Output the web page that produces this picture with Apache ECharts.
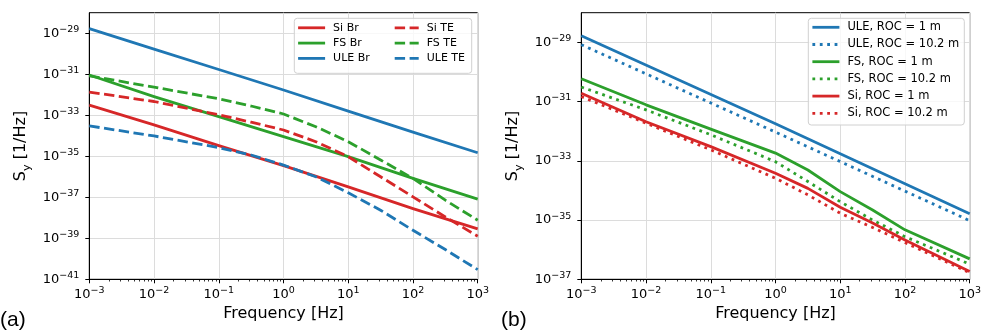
<html>
<head>
<meta charset="utf-8"/>
<title>Sy spectra</title>
<script src="https://cdn.jsdelivr.net/npm/echarts@6/dist/echarts.min.js"></script>
<style>
  body { margin: 0; padding: 0; background: #fff; }
  #chart { width: 997px; height: 336px; }
</style>
</head>
<body>
<div id="chart"></div>
<script type="text/javascript">
// all values are log10: x = log10(frequency / Hz), y = log10(S_y / (1/Hz))
// panel (a)
const brX = [-3, -2, -1, 0, 1, 2, 3];
const siBr = [-32.51, -33.47, -34.48, -35.46, -36.49, -37.55, -38.54];
const fsBr = [-31.04, -32.09, -33.07, -34.04, -35.02, -36.08, -37.09];
const uleBr = [-28.78, -29.78, -30.77, -31.77, -32.8, -33.82, -34.83];

const teX = [-3, -2, -1, -0.5, 0, 0.5, 1, 1.5, 2, 2.5, 3];
const siTE = [-31.87, -32.33, -32.98, -33.34, -33.72, -34.29, -35.02, -36.0, -36.98, -37.96, -38.9];
const fsTE = [-31.08, -31.63, -32.2, -32.55, -32.94, -33.56, -34.29, -35.18, -36.08, -37.14, -38.12];
const uleTE = [-33.52, -34.01, -34.58, -34.94, -35.43, -36.0, -36.78, -37.63, -38.61, -39.55, -40.53];

// panel (b)
const uleX = [-3, 0, 3];
const ule1 = [-28.78, -31.75, -34.79];
const ule10 = [-29.08, -32.03, -35.02];

const rocX = [-3, -2, -1, 0, 0.5, 1, 1.5, 2, 3];
const fs1 = [-30.23, -31.11, -31.93, -32.74, -33.31, -34.04, -34.66, -35.33, -36.31];
const fs10 = [-30.51, -31.28, -32.12, -33.03, -33.7, -34.38, -35.0, -35.56, -36.49];
const si1 = [-30.72, -31.68, -32.52, -33.42, -33.93, -34.57, -35.1, -35.67, -36.74];
const si10 = [-30.83, -31.73, -32.63, -33.59, -34.15, -34.77, -35.25, -35.76, -36.78];

// axis ranges (decades)
const yTicksA = [-41, -39, -37, -35, -33, -31, -29];
const yTicksB = [-37, -35, -33, -31, -29];
const yMinA = -41, yMaxA = -28;
const yMinB = -37, yMaxB = -28;

const BLUE = '#1f77b4', GREEN = '#2ca02c', RED = '#d62728';
const FONT = 'DejaVu Sans';
const LW = 2.8;
const DASH = [10.4, 4.5];
const DOT = [2.8, 4.6];

let chart = echarts.init(document.getElementById('chart'), null, {renderer: 'canvas'});

function minus(n) {
  return n < 0 ? '\u2212' + Math.abs(n) : '' + n;
}

function powLabel(n) {
  return '{b|10}{e|' + minus(n) + '}';
}

const richPow = {
  b: {fontSize: 13, fontFamily: FONT, color: '#000', lineHeight: 18},
  e: {fontSize: 9.5, fontFamily: FONT, color: '#000', lineHeight: 10, verticalAlign: 'top'}
};

let minorX = [];
for (let n = -3; n < 3; n++) {
  for (let k = 2; k <= 9; k++) {
    minorX.push(n + Math.log10(k));
  }
}

function mainX(gridIndex) {
  return {
    type: 'value', gridIndex: gridIndex, position: 'bottom',
    min: -3, max: 3, interval: 1,
    name: 'Frequency [Hz]', nameLocation: 'middle', nameGap: 23,
    nameTextStyle: {fontSize: 16, fontFamily: FONT, color: '#000'},
    axisLine: {show: true, onZero: false, lineStyle: {color: '#000', width: 1}},
    axisTick: {show: true, length: 4, lineStyle: {color: '#000', width: 1}},
    axisLabel: {
      margin: 6, color: '#000',
      formatter: (v) => powLabel(Math.round(v)),
      rich: richPow
    },
    splitLine: {show: true, lineStyle: {color: '#dcdcdc', width: 1}}
  };
}

function minorXAxis(gridIndex) {
  return {
    type: 'value', gridIndex: gridIndex, position: 'bottom',
    min: -3, max: 3,
    axisLine: {show: false, onZero: false},
    axisTick: {show: true, length: 2.2, customValues: minorX, lineStyle: {color: '#000', width: 0.8}},
    axisLabel: {show: false},
    splitLine: {show: false}
  };
}

function mainY(gridIndex, yMin, yMax, ticks) {
  let shifted = ticks.map((t) => t - yMin);
  return {
    type: 'value', gridIndex: gridIndex, position: 'left',
    min: 0, max: yMax - yMin, interval: 2,
    name: '{s|S}{u|y}{s| [1/Hz]}', nameLocation: 'middle', nameGap: 57,
    nameTextStyle: {
      rich: {
        s: {fontSize: 16, fontFamily: FONT, color: '#000', lineHeight: 22},
        u: {fontSize: 11.2, fontFamily: FONT, color: '#000', lineHeight: 12, verticalAlign: 'bottom'}
      }
    },
    axisLine: {show: true, onZero: false, lineStyle: {color: '#000', width: 1}},
    axisTick: {show: true, length: 4, customValues: shifted, lineStyle: {color: '#000', width: 1}},
    axisLabel: {
      margin: 10, color: '#000', customValues: shifted,
      formatter: (v) => powLabel(Math.round(v + yMin)),
      rich: richPow
    },
    splitLine: {show: true, lineStyle: {color: '#dcdcdc', width: 1}}
  };
}

function pairs(xs, ys, yMin) {
  return xs.map((x, i) => [x, ys[i] - yMin]);
}

function line(name, idx, xs, ys, yMin, color, type) {
  return {
    name: name, type: 'line',
    xAxisIndex: idx, yAxisIndex: idx,
    data: pairs(xs, ys, yMin),
    symbol: 'none', showSymbol: false,
    lineStyle: {color: color, width: LW, type: type, cap: 'butt', join: 'round'},
    itemStyle: {color: color},
    emphasis: {disabled: true},
    animation: false
  };
}

const legendText = (size) => ({fontSize: size, fontFamily: FONT, color: '#000', padding: [0, 0, 0, 3]});
const legendBase = {
  orient: 'vertical', padding: 0, itemHeight: 12, selectedMode: false,
  itemStyle: {opacity: 0},
  lineStyle: {width: LW}
};

let option = {
  backgroundColor: '#fff',
  animation: false,
  grid: [
    {left: 89.3, top: 12.7, width: 388.4, height: 266.6, show: true, borderColor: '#000', borderWidth: 1, backgroundColor: 'transparent'},
    {left: 581.3, top: 12.7, width: 388.4, height: 266.6, show: true, borderColor: '#000', borderWidth: 1, backgroundColor: 'transparent'}
  ],
  xAxis: [mainX(0), mainX(1), minorXAxis(0), minorXAxis(1)],
  yAxis: [mainY(0, yMinA, yMaxA, yTicksA), mainY(1, yMinB, yMaxB, yTicksB)],
  legend: [
    Object.assign({}, legendBase, {
      data: ['Si Br', 'FS Br', 'ULE Br'],
      left: 296.7, top: 22.3, itemWidth: 27, itemGap: 4.3, textStyle: legendText(11)
    }),
    Object.assign({}, legendBase, {
      data: ['Si TE', 'FS TE', 'ULE TE'],
      left: 393.3, top: 22.3, itemWidth: 24, itemGap: 4.3, textStyle: legendText(11)
    }),
    Object.assign({}, legendBase, {
      data: ['ULE, ROC = 1 m', 'ULE, ROC = 10.2 m', 'FS, ROC = 1 m', 'FS, ROC = 10.2 m', 'Si, ROC = 1 m', 'Si, ROC = 10.2 m'],
      left: 811, top: 21.3, itemWidth: 27, itemGap: 5.2, textStyle: legendText(11.5)
    })
  ],
  graphic: {
    elements: [
      {type: 'rect', z: 3, shape: {x: 294.3, y: 18.3, width: 177.4, height: 55, r: 3},
        style: {fill: 'rgba(255,255,255,0.8)', stroke: '#d0d0d0', lineWidth: 1}},
      {type: 'rect', z: 3, shape: {x: 808.3, y: 18.3, width: 156, height: 106.7, r: 3},
        style: {fill: 'rgba(255,255,255,0.8)', stroke: '#d0d0d0', lineWidth: 1}},
      {type: 'text', x: 0, y: 320, style: {text: '(a)', fontSize: 21, fontFamily: 'Liberation Sans', fill: '#000', verticalAlign: 'middle'}},
      {type: 'text', x: 501, y: 320, style: {text: '(b)', fontSize: 21, fontFamily: 'Liberation Sans', fill: '#000', verticalAlign: 'middle'}}
    ]
  },
  series: [
    line('Si Br', 0, brX, siBr, yMinA, RED, 'solid'),
    line('FS Br', 0, brX, fsBr, yMinA, GREEN, 'solid'),
    line('ULE Br', 0, brX, uleBr, yMinA, BLUE, 'solid'),
    line('Si TE', 0, teX, siTE, yMinA, RED, DASH),
    line('FS TE', 0, teX, fsTE, yMinA, GREEN, DASH),
    line('ULE TE', 0, teX, uleTE, yMinA, BLUE, DASH),
    line('ULE, ROC = 1 m', 1, uleX, ule1, yMinB, BLUE, 'solid'),
    line('ULE, ROC = 10.2 m', 1, uleX, ule10, yMinB, BLUE, DOT),
    line('FS, ROC = 1 m', 1, rocX, fs1, yMinB, GREEN, 'solid'),
    line('FS, ROC = 10.2 m', 1, rocX, fs10, yMinB, GREEN, DOT),
    line('Si, ROC = 1 m', 1, rocX, si1, yMinB, RED, 'solid'),
    line('Si, ROC = 10.2 m', 1, rocX, si10, yMinB, RED, DOT)
  ]
};

chart.setOption(option);
</script>
</body>
</html>
